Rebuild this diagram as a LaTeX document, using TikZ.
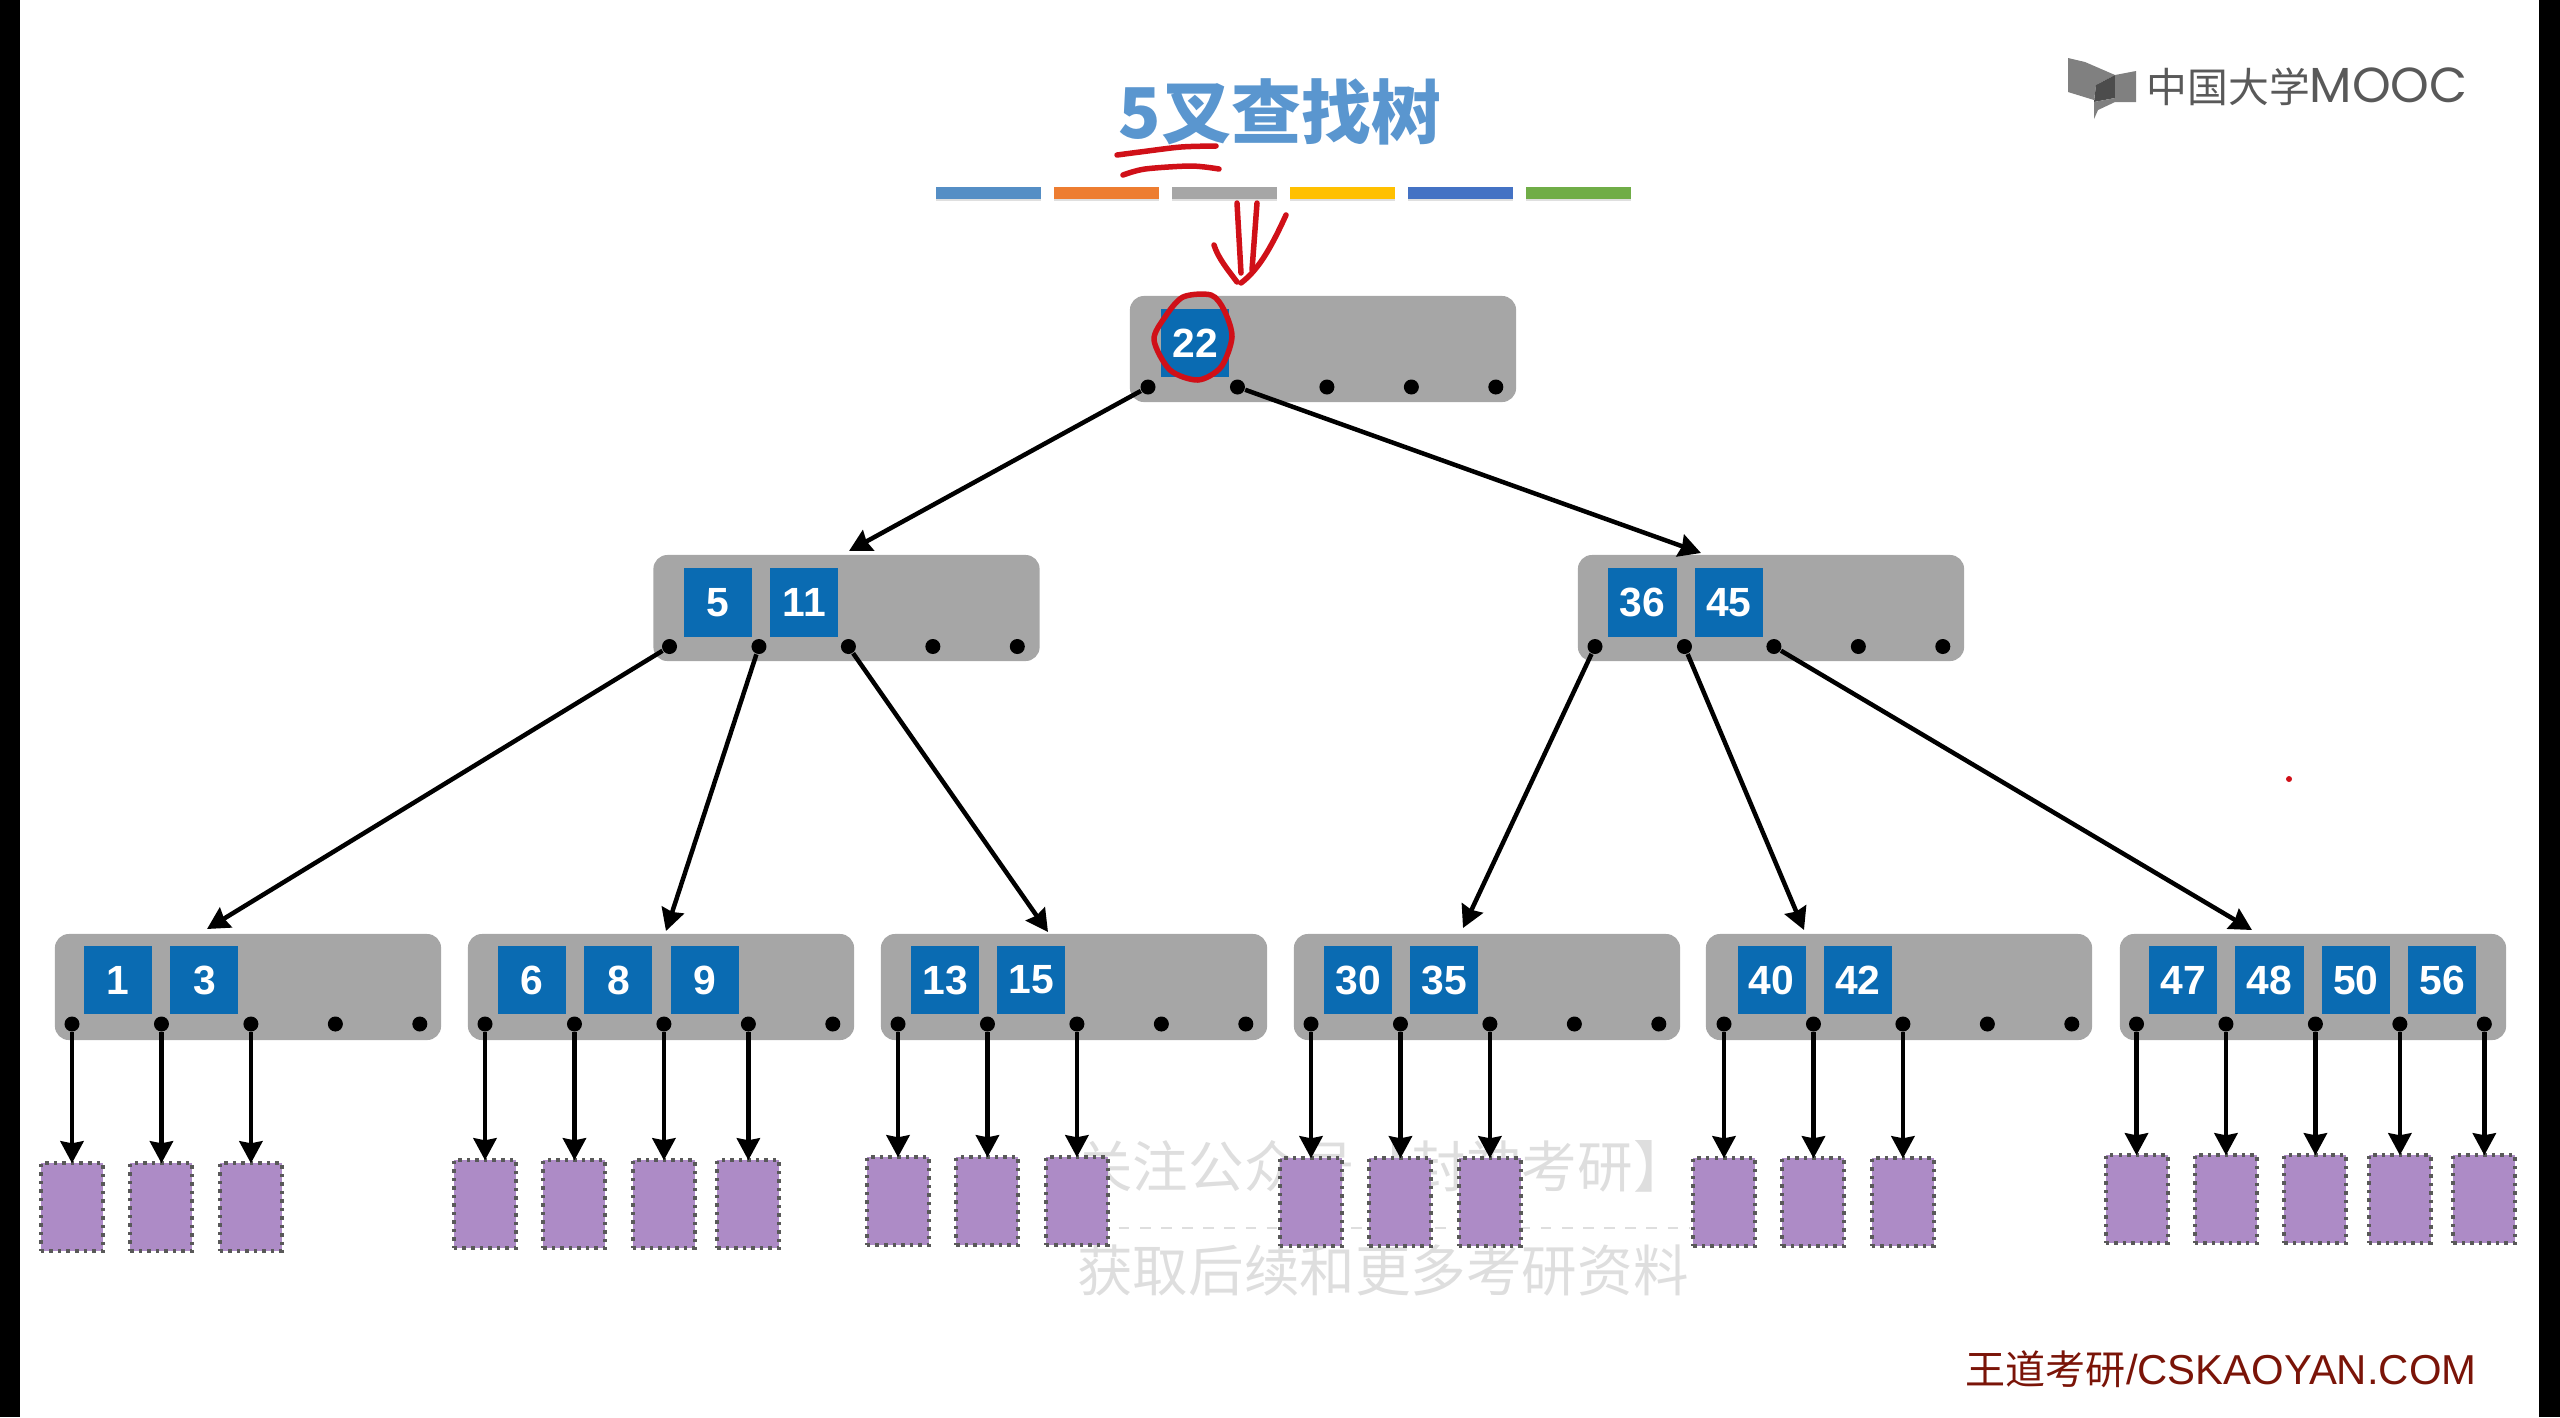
\documentclass[tikz,border=0pt]{standalone}
\usepackage{fontspec}
\setmainfont{Liberation Sans}
\newfontfamily\cjk{Noto Sans CJK SC}
\newfontfamily\logofont{Poppins}
\usetikzlibrary{positioning,arrows.meta,shadows}
\definecolor{keyblue}{HTML}{0A6BB2}
\definecolor{boxgray}{HTML}{A6A6A6}
\definecolor{leafpurple}{HTML}{AD8BC6}
\definecolor{titleblue}{HTML}{5A96CF}
\definecolor{brandred}{HTML}{7A1408}
\definecolor{markred}{HTML}{D01018}

\begin{document}
\begin{tikzpicture}[%Search tree, one unit is one pixel
  x=0.01cm, y=-0.01cm,
  boxnode/.style={rectangle, fill=boxgray, rounded corners=0.14cm, minimum width=3.86cm, minimum height=1.06cm, inner sep=0pt},
  keynode/.style={rectangle, fill=keyblue, text=white, minimum size=0.68cm, inner sep=0pt, font=\bfseries\fontsize{11.6pt}{12pt}\selectfont},
  dotnode/.style={fill=black, circle, inner sep=0pt, minimum size=0.15cm},
  leafnode/.style={rectangle, fill=leafpurple, draw=black!65, line width=0.04cm, dash pattern=on 0.035cm off 0.05cm, minimum width=0.62cm, minimum height=0.88cm, inner sep=0pt, outer sep=0pt, anchor=north},
  barnode/.style={rectangle, minimum width=1.05cm, minimum height=0.12cm, inner sep=0pt, drop shadow={shadow xshift=0pt, shadow yshift=-0.6pt, opacity=0.25}},
  edgeline/.style={line width=0.045cm, -{Stealth[length=0.22cm, width=0.23cm, inset=0.02cm]}},
  redline/.style={draw=markred, line width=0.055cm, line cap=round, line join=round},
  fadetext/.style={text=black!13, font=\cjk\fontsize{15.8pt}{16pt}\selectfont, inner sep=0pt}
]
\useasboundingbox (0,0) rectangle (2560,1417);

%Frame
\fill[black] (0,0) rectangle (20,1417);
\fill[black] (2539,0) rectangle (2560,1417);

%Title and colour bar
\node[text=titleblue, font=\cjk\bfseries\fontsize{19.9pt}{20pt}\selectfont, inner sep=0pt] (title) at (1280,112) {5叉查找树};
\node[barnode, fill=titleblue!95!black, anchor=west] (bar1) at (935,193) {};
\node[barnode, fill={rgb,255:red,237;green,125;blue,49}, right=0.115cm of bar1] (bar2) {};
\node[barnode, fill=boxgray, right=0.115cm of bar2] (bar3) {};
\node[barnode, fill={rgb,255:red,255;green,192;blue,0}, right=0.115cm of bar3] (bar4) {};
\node[barnode, fill={rgb,255:red,68;green,114;blue,196}, right=0.115cm of bar4] (bar5) {};
\node[barnode, fill={rgb,255:red,112;green,173;blue,71}, right=0.115cm of bar5] (bar6) {};

%Logo
\fill[black!50] (2068,58) -- (2085,62) -- (2115,75) -- (2096,85) -- (2094,100) -- (2068,92) -- cycle;
\fill[black!70] (2096,85) -- (2115,75) -- (2115,98) -- (2094,102) -- cycle;
\fill[black!50] (2115,75) -- (2136,71) -- (2136,102) -- (2115,102) -- (2098,110) -- (2094,119) -- (2094,102) -- (2115,98) -- cycle;
\node[text=black!65, anchor=west, inner sep=0pt] (logo) at (2146,87) {\cjk\fontsize{11.6pt}{12pt}\selectfont 中国大学\logofont\fontsize{14pt}{14pt}\selectfont MOOC};

%Brand
\node[text=brandred, anchor=west, inner sep=0pt] (brand) at (1965,1369) {\cjk\fontsize{11.4pt}{12pt}\selectfont 王道考研\rmfamily\fontsize{11.9pt}{12pt}\selectfont /CSKAOYAN.COM};

%Faded lines behind the leaves
\node[fadetext] (fade1) at (1383,1166) {关注公众号【封神考研】};
\node[fadetext] (fade2) at (1383,1270) {获取后续和更多考研资料};
\draw[black!13, line width=0.02cm, dashed] (fade1.west |- 0,1228) -- (fade1.east |- 0,1228);

%Boxes
\node[boxnode] (root) at (1323,349) {};
\node[boxnode] (mid1) at (846.5,608) {};
\node[boxnode] (mid2) at (1771,608) {};
\node[boxnode] (low1) at (248,987) {};
\node[boxnode] (low2) at (661,987) {};
\node[boxnode] (low3) at (1074,987) {};
\node[boxnode] (low4) at (1487,987) {};
\node[boxnode] (low5) at (1899,987) {};
\node[boxnode] (low6) at (2313,987) {};

%Keys
\node[keynode] (k22) at (1195,343) {22};
\node[keynode] (k5) at (718,602.5) {5};
\node[keynode, right=0.17cm of k5] (k11) {11};
\node[keynode] (k36) at (1642.5,602.5) {36};
\node[keynode, right=0.17cm of k36] (k45) {45};
\node[keynode] (k1) at (118,980) {1};
\node[keynode, right=0.17cm of k1] (k3) {3};
\node[keynode] (k6) at (532,980) {6};
\node[keynode, right=0.17cm of k6] (k8) {8};
\node[keynode, right=0.17cm of k8] (k9) {9};
\node[keynode] (k13) at (945,980) {13};
\node[keynode, right=0.17cm of k13] (k15) {15};
\node[keynode] (k30) at (1358,980) {30};
\node[keynode, right=0.17cm of k30] (k35) {35};
\node[keynode] (k40) at (1771.5,980) {40};
\node[keynode, right=0.17cm of k40] (k42) {42};
\node[keynode] (k47) at (2183,980) {47};
\node[keynode, right=0.17cm of k47] (k48) {48};
\node[keynode, right=0.17cm of k48] (k50) {50};
\node[keynode, right=0.17cm of k50] (k56) {56};

%Dots
\node[dotnode] (a1) at (1148,387) {};
\node[dotnode, right=0.73cm of a1] (a2) {};
\node[dotnode, right=0.73cm of a2] (a3) {};
\node[dotnode, right=0.68cm of a3] (a4) {};
\node[dotnode, right=0.68cm of a4] (a5) {};
\node[dotnode] (b1) at (669.5,646.5) {};
\node[dotnode, right=0.73cm of b1] (b2) {};
\node[dotnode, right=0.73cm of b2] (b3) {};
\node[dotnode, right=0.68cm of b3] (b4) {};
\node[dotnode, right=0.68cm of b4] (b5) {};
\node[dotnode] (c1) at (1595,646.5) {};
\node[dotnode, right=0.73cm of c1] (c2) {};
\node[dotnode, right=0.73cm of c2] (c3) {};
\node[dotnode, right=0.68cm of c3] (c4) {};
\node[dotnode, right=0.68cm of c4] (c5) {};
\node[dotnode] (d1) at (72,1024) {};
\node[dotnode, right=0.73cm of d1] (d2) {};
\node[dotnode, right=0.73cm of d2] (d3) {};
\node[dotnode, right=0.68cm of d3] (d4) {};
\node[dotnode, right=0.68cm of d4] (d5) {};
\node[dotnode] (e1) at (485,1024) {};
\node[dotnode, right=0.73cm of e1] (e2) {};
\node[dotnode, right=0.73cm of e2] (e3) {};
\node[dotnode, right=0.68cm of e3] (e4) {};
\node[dotnode, right=0.68cm of e4] (e5) {};
\node[dotnode] (f1) at (898,1024) {};
\node[dotnode, right=0.73cm of f1] (f2) {};
\node[dotnode, right=0.73cm of f2] (f3) {};
\node[dotnode, right=0.68cm of f3] (f4) {};
\node[dotnode, right=0.68cm of f4] (f5) {};
\node[dotnode] (g1) at (1311,1024) {};
\node[dotnode, right=0.73cm of g1] (g2) {};
\node[dotnode, right=0.73cm of g2] (g3) {};
\node[dotnode, right=0.68cm of g3] (g4) {};
\node[dotnode, right=0.68cm of g4] (g5) {};
\node[dotnode] (h1) at (1724,1024) {};
\node[dotnode, right=0.73cm of h1] (h2) {};
\node[dotnode, right=0.73cm of h2] (h3) {};
\node[dotnode, right=0.68cm of h3] (h4) {};
\node[dotnode, right=0.68cm of h4] (h5) {};
\node[dotnode] (i1) at (2136.5,1024) {};
\node[dotnode, right=0.73cm of i1] (i2) {};
\node[dotnode, right=0.73cm of i2] (i3) {};
\node[dotnode, right=0.68cm of i3] (i4) {};
\node[dotnode, right=0.68cm of i4] (i5) {};

%Leaves
\node[leafnode, below=1.31cm of d1] (ld1) {};
\node[leafnode, below=1.31cm of d2] (ld2) {};
\node[leafnode, below=1.31cm of d3] (ld3) {};
\node[leafnode, below=1.28cm of e1] (le1) {};
\node[leafnode, below=1.28cm of e2] (le2) {};
\node[leafnode, below=1.28cm of e3] (le3) {};
\node[leafnode, below=1.28cm of e4] (le4) {};
\node[leafnode, below=1.25cm of f1] (lf1) {};
\node[leafnode, below=1.25cm of f2] (lf2) {};
\node[leafnode, below=1.25cm of f3] (lf3) {};
\node[leafnode, below=1.26cm of g1] (lg1) {};
\node[leafnode, below=1.26cm of g2] (lg2) {};
\node[leafnode, below=1.26cm of g3] (lg3) {};
\node[leafnode, below=1.26cm of h1] (lh1) {};
\node[leafnode, below=1.26cm of h2] (lh2) {};
\node[leafnode, below=1.26cm of h3] (lh3) {};
\node[leafnode, below=1.23cm of i1] (li1) {};
\node[leafnode, below=1.23cm of i2] (li2) {};
\node[leafnode, below=1.23cm of i3] (li3) {};
\node[leafnode, below=1.23cm of i4] (li4) {};
\node[leafnode, below=1.23cm of i5] (li5) {};

%Arrow ends on the box tops
\coordinate (t1) at (849,551);
\coordinate (t2) at (1701,553);
\coordinate (t3) at (207,929);
\coordinate (t4) at (666,931);
\coordinate (t5) at (1048,932);
\coordinate (t6) at (1463,928);
\coordinate (t7) at (1804,930);
\coordinate (t8) at (2252,930);

%Arrows
\draw[edgeline] (a1) -- (t1);
\draw[edgeline] (a2) -- (t2);
\draw[edgeline] (b1) -- (t3);
\draw[edgeline] (b2) -- (t4);
\draw[edgeline] (b3) -- (t5);
\draw[edgeline] (c1) -- (t6);
\draw[edgeline] (c2) -- (t7);
\draw[edgeline] (c3) -- (t8);
\draw[edgeline] (d1) -- (ld1);
\draw[edgeline] (d2) -- (ld2);
\draw[edgeline] (d3) -- (ld3);
\draw[edgeline] (e1) -- (le1);
\draw[edgeline] (e2) -- (le2);
\draw[edgeline] (e3) -- (le3);
\draw[edgeline] (e4) -- (le4);
\draw[edgeline] (f1) -- (lf1);
\draw[edgeline] (f2) -- (lf2);
\draw[edgeline] (f3) -- (lf3);
\draw[edgeline] (g1) -- (lg1);
\draw[edgeline] (g2) -- (lg2);
\draw[edgeline] (g3) -- (lg3);
\draw[edgeline] (h1) -- (lh1);
\draw[edgeline] (h2) -- (lh2);
\draw[edgeline] (h3) -- (lh3);
\draw[edgeline] (i1) -- (li1);
\draw[edgeline] (i2) -- (li2);
\draw[edgeline] (i3) -- (li3);
\draw[edgeline] (i4) -- (li4);
\draw[edgeline] (i5) -- (li5);

%Red pen marks
\draw[redline] plot[smooth] coordinates {(1117,155) (1140,152) (1181,147) (1216,146)};
\draw[redline] plot[smooth] coordinates {(1123,175) (1145,169) (1191,166) (1219,169)};
\draw[redline] (1237,203) -- (1241,273);
\draw[redline] (1257,203) -- (1252,270);
\draw[redline] (1286,215) .. controls (1270,250) and (1258,270) .. (1241,283);
\draw[redline] (1214,245) .. controls (1218,258) and (1228,270) .. (1237,282);
\draw[redline] plot[smooth cycle] coordinates {(1183,297) (1211,295) (1224,310) (1232,337) (1221,367) (1198,380) (1170,370) (1154,340) (1165,317)};
\fill[markred] (2289,779) circle (3);
\end{tikzpicture}
\end{document}
